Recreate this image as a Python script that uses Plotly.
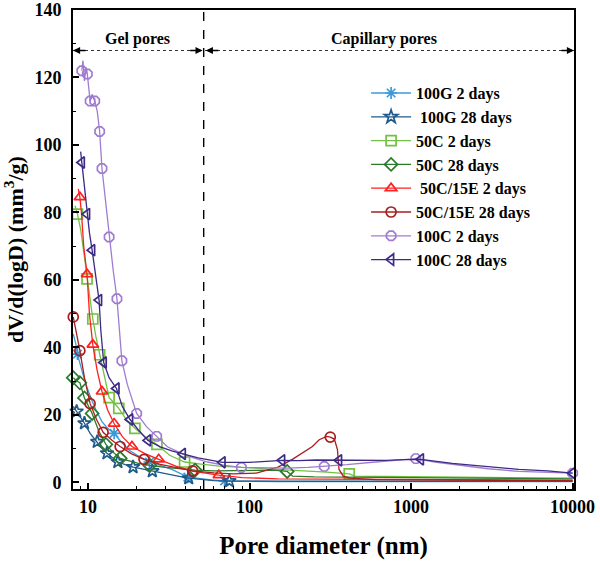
import numpy as np
import plotly.graph_objects as go

# ---------------- data ----------------
names = ["100G 2 days", "\u00a0100G 28 days", "50C 2 days", "50C 28 days",
         "\u00a050C/15E 2 days", "50C/15E 28 days", "100C 2 days", "100C 28 days"]

g100_2d_x = [8.1, 8.4, 8.6, 8.9, 9.3, 9.8, 10.5, 11.3, 12.2, 13.2, 14.5, 16, 18, 20.5, 24, 28, 33,
             41.5, 50, 58, 70, 85, 110, 150, 250, 500, 1000, 2000, 5000, 10000]
g100_2d_y = [44, 41, 38, 35, 32, 28.5, 24.5, 21, 18, 16, 14.5, 12, 9.5, 7.8, 6, 5, 3.8,
             1.5, 1.0, 0.7, 0.4, 0.3, 0.25, 0.2, 0.2, 0.2, 0.2, 0.2, 0.2, 0.2]
g100_2d_mk = [8.6, 14.5, 24, 41.5, 70]

g100_28d_x = [8.1, 8.5, 9.0, 9.5, 10.3, 11.4, 12.2, 13.1, 14.2, 15.3, 17, 19, 22, 25, 30, 36, 42,
              50, 60, 75, 100, 150, 300, 1000, 3000, 10000]
g100_28d_y = [22.5, 21, 19.5, 17.5, 14.5, 12, 10, 8.6, 7.2, 6, 5.2, 4.5, 3.9, 3.3, 2.5, 1.8, 1.2,
              0.8, 0.5, 0.35, 0.3, 0.3, 0.3, 0.3, 0.3, 0.3]
g100_28d_mk = [8.5, 9.5, 11.4, 13.1, 15.3, 19, 25, 42, 75]

c50_2d_x = [8.3, 8.6, 9.0, 9.4, 9.86, 10.3, 10.7, 11.2, 11.8, 12.6, 13.5, 14.5, 15.5, 17.3, 19.5,
            22.5, 26.7, 32, 39.6, 50, 65, 90, 130, 200, 300, 414, 450, 700, 1500, 4000, 10000]
c50_2d_y = [82, 79.5, 75, 68, 60.3, 54, 48.4, 43, 37.8, 31, 25.1, 23.5, 21.9, 18.5, 16,
            13.5, 11.2, 8, 6.0, 5.4, 4.8, 4.4, 4.0, 3.5, 3.0, 2.5, 1.8, 1.7, 1.6, 1.5, 1.2]
c50_2d_mk = [8.6, 9.86, 10.7, 11.8, 13.5, 15.5, 19.5, 26.7, 39.6, 414]

c50_28d_x = [8.1, 8.5, 8.9, 9.5, 10.6, 11.7, 12.9, 14.2, 15.8, 18, 20.5, 24.1, 30, 38, 46, 60,
             80, 110, 140, 171, 185, 250, 500, 1000, 3000, 10000]
c50_28d_y = [31, 30, 29.5, 25, 20.4, 15, 11.2, 9, 7.1, 6.3, 5.6, 5.0, 4.4, 4.0, 3.6, 3.4,
             3.5, 3.7, 3.6, 3.2, 1.8, 1.6, 1.5, 1.4, 1.3, 1.0]
c50_28d_mk = [8.1, 8.9, 9.5, 10.6, 12.9, 15.8, 24.1, 46, 171]

e15_2d_x = [8.7, 8.9, 9.1, 9.4, 9.86, 10.2, 10.7, 11.4, 12.2, 13.2, 14.5, 16.3, 18.7, 22.5, 27.4,
            35, 45, 64.5, 90, 150, 300, 1000, 3000, 10000]
e15_2d_y = [87, 84.5, 80, 70, 61.7, 50, 40.8, 33, 26.9, 21.5, 17.4, 13.5, 10.6, 8.5, 6.8,
            4.8, 3.2, 2.1, 1.4, 1.0, 0.9, 0.8, 0.7, 0.6]
e15_2d_mk = [8.9, 9.86, 10.7, 12.2, 14.5, 18.7, 27.4, 64.5]

e15_28d_x = [8.1, 8.5, 8.9, 9.5, 10.3, 11.3, 12.4, 14, 15.8, 18.5, 22.2, 28, 35, 44.4, 60, 80,
             110, 150, 184, 215, 245, 270, 300, 316, 335, 350, 358, 380, 420, 600, 1000, 3000,
             10000]
e15_28d_y = [49, 44, 39, 31, 23.3, 18.5, 14.8, 12.5, 10.6, 8.5, 6.8, 5.3, 4.3, 3.4, 2.8, 2.5,
             2.7, 4.5, 6.8, 8.8, 10.6, 12.6, 13.6, 13.4, 12.8, 9.7, 3.8, 1.8, 1.2, 0.8, 0.7, 0.6,
             0.5]
e15_28d_mk = [8.1, 8.9, 10.3, 12.4, 15.8, 22.2, 44.4, 316]

c100_2d_x = [9.15, 9.3, 9.5, 9.7, 9.9, 10.1, 10.3, 10.6, 11.0, 11.4, 11.8, 12.2, 12.8, 13.5, 14.3,
             15.1, 16.2, 17.5, 20, 23, 26.6, 31, 37, 45, 55, 70, 89, 120, 170, 230, 290, 400,
             600, 850, 1070, 1400, 1800, 3000, 4640, 7000, 10000]
c100_2d_y = [122, 125, 119, 123, 121, 116, 113, 115, 113, 110, 104, 93, 84, 72.7, 63,
             54.4, 36, 29, 20.4, 16.5, 13.6, 10.5, 8.8, 7.2, 6.0, 5.0, 4.4, 4.3, 4.2, 4.4, 4.7, 5.2,
             6.0, 6.6, 7.0, 6.0, 5.3, 4.0, 3.2, 3.0, 2.7]
c100_2d_mk = [9.15, 9.9, 10.3, 11.0, 11.8, 12.2, 13.5, 15.1, 16.2, 20, 26.6, 89, 290, 1070, 10000]

c100_28d_x = [9.0, 9.15, 9.3, 9.6, 9.86, 10.2, 10.6, 11.1, 11.7, 12.0, 12.5, 13.5, 15.0, 16.3,
              18.2, 20.5, 23.5, 28, 33, 38.6, 48, 68, 100, 159, 200, 260, 358, 500, 700, 900,
              1150, 1800, 2500, 4640, 7000, 10000]
c100_28d_y = [98, 94.8, 90, 85, 79.5, 74, 68.8, 62, 54, 45, 35.5, 31, 27.8, 22.5,
              18.6, 15.5, 12.4, 10.5, 9.3, 8.4, 7.2, 5.9, 5.9, 6.5, 6.4, 6.6, 6.5, 6.4, 6.5, 6.7,
              6.8, 5.6, 5.0, 3.8, 3.4, 2.7]
c100_28d_mk = [9.15, 9.86, 10.6, 11.7, 12.5, 15.0, 18.2, 23.5, 38.6, 68, 159, 358, 1150, 10000]

x_tick_vals = [10, 100, 1000, 10000]
x_tick_text = ["10", "100", "1000", "10000"]
y_tick_vals = [0, 20, 40, 60, 80, 100, 120, 140]

gel_boundary = 52          # nm, dashed divider
arrow_level = 128          # y value of the dotted arrows
x_lo, x_hi = 8.07, 10200
y_lo, y_hi = -2, 140

# ---------------- styling ----------------
colors = ["#3A9AD9", "#1F5A8A", "#72C143", "#2B7A2B", "#FF2020", "#A81E1E", "#A07CD0", "#3C2A85"]
symbols = ["asterisk-open", "star-open", "square-open", "diamond-open", "triangle-up-open",
           "circle-open", "octagon-open", "triangle-left-open"]
xs_all = [g100_2d_x, g100_28d_x, c50_2d_x, c50_28d_x, e15_2d_x, e15_28d_x, c100_2d_x, c100_28d_x]
ys_all = [g100_2d_y, g100_28d_y, c50_2d_y, c50_28d_y, e15_2d_y, e15_28d_y, c100_2d_y, c100_28d_y]
mk_all = [g100_2d_mk, g100_28d_mk, c50_2d_mk, c50_28d_mk, e15_2d_mk, e15_28d_mk, c100_2d_mk,
          c100_28d_mk]

FONT = "Liberation Serif, Times New Roman, serif"

fig = go.Figure()

# divider and arrow guide lines
fig.add_trace(go.Scatter(x=[gel_boundary, gel_boundary], y=[y_lo, y_hi], mode="lines",
                         line=dict(color="black", width=1.4, dash="dash"),
                         showlegend=False, hoverinfo="skip"))
fig.add_trace(go.Scatter(x=[x_lo, x_hi], y=[arrow_level, arrow_level], mode="lines",
                         line=dict(color="#333333", width=1.1, dash="dot"),
                         showlegend=False, hoverinfo="skip"))

for name, xs, ys, mk, col, sym in zip(names, xs_all, ys_all, mk_all, colors, symbols):
    fig.add_trace(go.Scatter(x=xs, y=ys, mode="lines", line=dict(color=col, width=1.3),
                             showlegend=False, legendgroup=name, hoverinfo="skip"))
    mx = [x for x in xs if x in mk]
    my = [y for x, y in zip(xs, ys) if x in mk]
    fig.add_trace(go.Scatter(x=mx, y=my, mode="markers",
                             marker=dict(symbol=sym, size=10, color=col,
                                         line=dict(color=col, width=1.7)),
                             showlegend=False, legendgroup=name, cliponaxis=False))
    fig.add_trace(go.Scatter(x=[None], y=[None], mode="lines+markers", name=name,
                             line=dict(color=col, width=1.3), legendgroup=name,
                             marker=dict(symbol=sym, size=10, color=col,
                                         line=dict(color=col, width=1.7))))

axis_common = dict(showline=True, linecolor="black", linewidth=1.8, mirror=True,
                   ticks="inside", tickcolor="black", tickwidth=1.5, ticklen=6,
                   showgrid=False, zeroline=False, automargin=False,
                   ticklabeloverflow="allow",
                   tickfont=dict(family=FONT, size=18, color="black", weight="bold"))

minor_x = [m * 10 ** k for k in range(0, 4) for m in range(2, 10) if m * 10 ** k > x_lo]
fig.update_xaxes(type="log", range=[np.log10(x_lo), np.log10(x_hi)],
                 tickvals=x_tick_vals, ticktext=x_tick_text,
                 minor=dict(tickvals=minor_x, ticks="inside", ticklen=3, tickcolor="black",
                            tickwidth=1.2),
                 title=dict(text="Pore diameter (nm)",
                            font=dict(family=FONT, size=25, color="black", weight="bold"),
                            standoff=21),
                 ticklabelstandoff=0,
                 **axis_common)
fig.update_yaxes(range=[y_lo, y_hi], tickvals=y_tick_vals,
                 minor=dict(dtick=10, tick0=0, ticks="inside", ticklen=3, tickcolor="black",
                            tickwidth=1.2),
                 title=dict(text="dV/d(logD) (mm<sup>3</sup>/g)",
                            font=dict(family=FONT, size=22, color="black", weight="bold"),
                            standoff=6),
                 ticklabelstandoff=6,
                 **axis_common)

annotations = [
    dict(x=np.log10(20.3), y=131.5, text="Gel pores", showarrow=False,
         font=dict(family=FONT, size=16, color="black", weight="bold")),
    dict(x=np.log10(684), y=131.5, text="Capillary pores", showarrow=False,
         font=dict(family=FONT, size=16, color="black", weight="bold")),
]
for xv, off in [(x_lo, 14), (gel_boundary * 0.985, -14), (gel_boundary * 1.03, 14), (x_hi, -14)]:
    annotations.append(dict(x=np.log10(xv), y=arrow_level, ax=off, ay=0, text="",
                            showarrow=True, arrowhead=2, arrowsize=1.1, arrowwidth=1.3,
                            arrowcolor="black"))

fig.update_layout(
    width=600, height=562,
    margin=dict(l=73, r=26, t=10, b=73, autoexpand=False),
    paper_bgcolor="white", plot_bgcolor="white",
    font=dict(family=FONT, color="black"),
    annotations=annotations,
    legend=dict(x=0.585, y=0.862, xanchor="left", yanchor="top",
                font=dict(family=FONT, size=16, color="black", weight="bold"),
                bgcolor="rgba(255,255,255,0)", itemwidth=40, tracegroupgap=0),
)

fig.write_html("out.html", config={"displayModeBar": False},
               post_script="document.body.style.margin='0';document.body.style.padding='0';")
